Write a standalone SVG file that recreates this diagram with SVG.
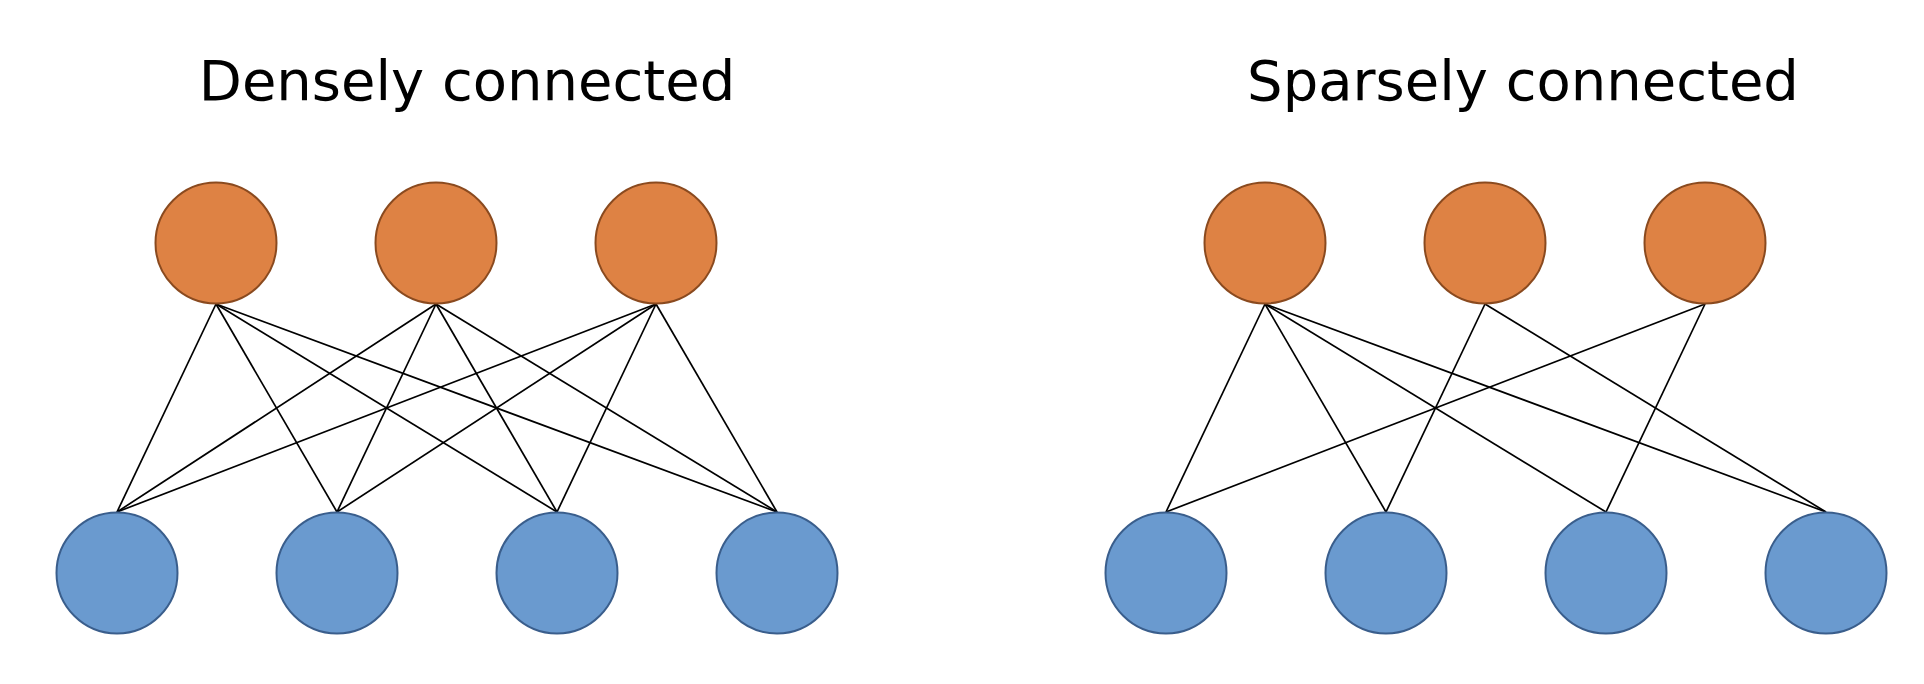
<svg xmlns="http://www.w3.org/2000/svg" width="1924" height="684" viewBox="0 0 1924 684">
<style>
.title{font-family:"DejaVu Sans",sans-serif;font-size:56px;fill:#000;text-anchor:middle}
.out{fill:#DE8244;stroke:#8A4A1F;stroke-width:2}
.in{fill:#6A9ACF;stroke:#3A5E8C;stroke-width:2}
.edge{stroke:#000;stroke-width:1.7;fill:none}
</style>
<rect width="1924" height="684" fill="#fff"/>
<text class="title" x="467" y="100">Densely connected</text>
<text class="title" x="1523" y="100">Sparsely connected</text>
<g id="connectors">
<line class="edge" x1="216" y1="304" x2="117" y2="512"/>
<line class="edge" x1="216" y1="304" x2="337" y2="512"/>
<line class="edge" x1="216" y1="304" x2="557" y2="512"/>
<line class="edge" x1="216" y1="304" x2="777" y2="512"/>
<line class="edge" x1="436" y1="304" x2="117" y2="512"/>
<line class="edge" x1="436" y1="304" x2="337" y2="512"/>
<line class="edge" x1="436" y1="304" x2="557" y2="512"/>
<line class="edge" x1="436" y1="304" x2="777" y2="512"/>
<line class="edge" x1="656" y1="304" x2="117" y2="512"/>
<line class="edge" x1="656" y1="304" x2="337" y2="512"/>
<line class="edge" x1="656" y1="304" x2="557" y2="512"/>
<line class="edge" x1="656" y1="304" x2="777" y2="512"/>
<line class="edge" x1="1265" y1="304" x2="1166" y2="512"/>
<line class="edge" x1="1265" y1="304" x2="1386" y2="512"/>
<line class="edge" x1="1265" y1="304" x2="1606" y2="512"/>
<line class="edge" x1="1265" y1="304" x2="1826" y2="512"/>
<line class="edge" x1="1485" y1="304" x2="1386" y2="512"/>
<line class="edge" x1="1485" y1="304" x2="1826" y2="512"/>
<line class="edge" x1="1705" y1="304" x2="1166" y2="512"/>
<line class="edge" x1="1705" y1="304" x2="1606" y2="512"/>
</g>
<g id="d-out1"><circle class="out" cx="216" cy="243" r="60.5"/></g>
<g id="d-out2"><circle class="out" cx="436" cy="243" r="60.5"/></g>
<g id="d-out3"><circle class="out" cx="656" cy="243" r="60.5"/></g>
<g id="d-in1"><circle class="in" cx="117" cy="573" r="60.5"/></g>
<g id="d-in2"><circle class="in" cx="337" cy="573" r="60.5"/></g>
<g id="d-in3"><circle class="in" cx="557" cy="573" r="60.5"/></g>
<g id="d-in4"><circle class="in" cx="777" cy="573" r="60.5"/></g>
<g id="s-out1"><circle class="out" cx="1265" cy="243" r="60.5"/></g>
<g id="s-out2"><circle class="out" cx="1485" cy="243" r="60.5"/></g>
<g id="s-out3"><circle class="out" cx="1705" cy="243" r="60.5"/></g>
<g id="s-in1"><circle class="in" cx="1166" cy="573" r="60.5"/></g>
<g id="s-in2"><circle class="in" cx="1386" cy="573" r="60.5"/></g>
<g id="s-in3"><circle class="in" cx="1606" cy="573" r="60.5"/></g>
<g id="s-in4"><circle class="in" cx="1826" cy="573" r="60.5"/></g>
</svg>
